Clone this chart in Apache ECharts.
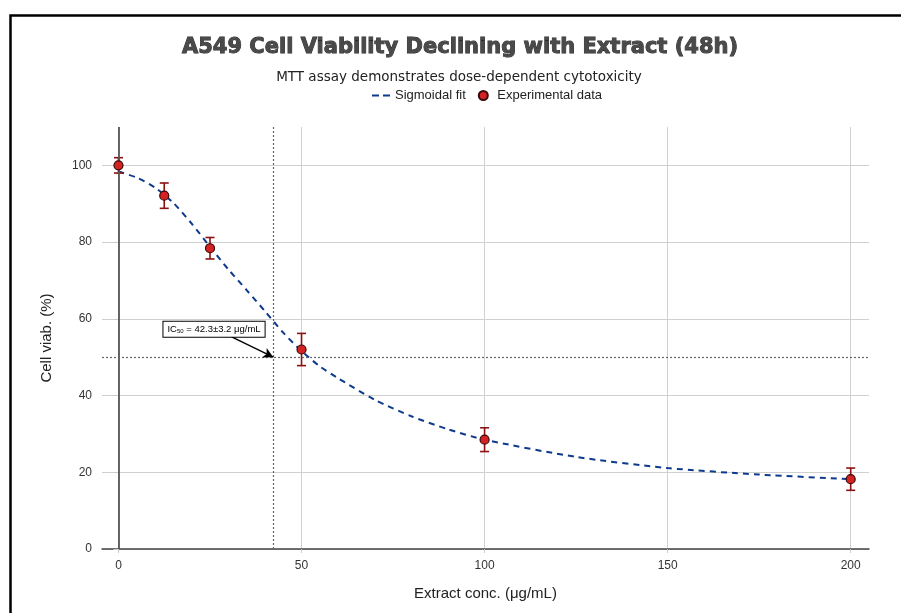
<!DOCTYPE html>
<html><head><meta charset="utf-8">
<script src="https://cdn.jsdelivr.net/npm/echarts@6/dist/echarts.min.js"></script>
<style>html,body{margin:0;padding:0;background:#fff}#c{width:901px;height:613px}</style>
</head><body><div id="c"></div>
<script>
// ---- data ----
const conc = [0, 12.5, 25, 50, 100, 200];
const viability = [100, 92.1, 78.4, 52.0, 28.5, 18.2];
const sdErr = [2.0, 3.3, 2.8, 4.2, 3.1, 2.9];
const fitX = [0, 5, 10, 15, 20, 25, 30, 35, 40, 45, 50, 55, 60, 70, 80, 90, 100, 125, 150, 175, 200];
const fitY = [98.4, 96.8, 94.2, 90.2, 84.8, 78.8, 72.9, 67.5, 62.0, 56.4, 51.6, 47.6, 44.5, 38.9, 34.6, 31.2, 28.5, 24.0, 21.1, 19.4, 18.2];
const xTicks = [0, 50, 100, 150, 200];
const yTicks = [0, 20, 40, 60, 80, 100];
const ic50 = 42.3;
const ic50Err = 3.2;
const halfLevel = 50;
const annotLabelAt = [26.1, 57.3];
const annotArrowFrom = [30.9, 55.3];

// ---- build ----
const fitData = fitX.map((x, i) => [x, fitY[i]]);
const ptsData = conc.map((x, i) => [x, viability[i]]);
const errData = conc.map((x, i) => [x, viability[i] - sdErr[i], viability[i] + sdErr[i]]);

const chart = echarts.init(document.getElementById('c'), null, {renderer: 'canvas'});
const FONT = '"Liberation Sans", Arial, sans-serif';

const option = {
  animation: false,
  backgroundColor: '#fff',
  grid: {left: 102, right: 32, top: 127, bottom: 64, containLabel: false},
  legend: {
    top: 84, left: 367,
    orient: 'horizontal',
    itemGap: 12,
    itemWidth: 18, itemHeight: 9,
    textStyle: {fontFamily: FONT, fontSize: 13, color: '#222'},
    data: [
      {name: 'Sigmoidal fit', icon: 'path://M0,0 L7,0 L7,2 L0,2 Z M11,0 L18,0 L18,2 L11,2 Z', itemStyle: {color: '#0d3a8c'}},
      {name: 'Experimental data', icon: 'circle'}
    ]
  },
  xAxis: {
    type: 'value', min: -4.5, max: 205,
    name: 'Extract conc. (μg/mL)', nameLocation: 'middle', nameGap: 37,
    nameTextStyle: {fontFamily: FONT, fontSize: 15, color: '#222'},
    axisLine: {show: true, onZero: false, lineStyle: {color: '#444', width: 1.5}},
    axisTick: {show: true, length: 4, lineStyle: {color: '#ccc'}, customValues: xTicks},
    axisLabel: {fontFamily: FONT, fontSize: 12, color: '#333', margin: 11, customValues: xTicks},
    splitLine: {show: true, lineStyle: {color: '#d0d0d0', width: 1}}
  },
  yAxis: {
    type: 'value', min: 0, max: 110,
    name: 'Cell viab. (%)', nameLocation: 'middle', nameGap: 48,
    nameTextStyle: {fontFamily: FONT, fontSize: 15, color: '#222'},
    axisLine: {show: false},
    axisTick: {show: true, length: 5, lineStyle: {color: '#ccc'}, customValues: yTicks},
    axisLabel: {fontFamily: FONT, fontSize: 12, color: '#333', margin: 10, customValues: yTicks},
    splitLine: {show: true, lineStyle: {color: '#d0d0d0', width: 1}}
  },
  series: [
    {
      name: 'refLines', type: 'line', data: [], silent: true, z: 1,
      markLine: {
        silent: true, symbol: ['none', 'none'], label: {show: false}, animation: false,
        data: [
          {xAxis: 0, lineStyle: {color: '#555', width: 1.8, type: 'solid'}},
          {xAxis: ic50, lineStyle: {color: '#666', width: 1.2, type: [2, 2]}},
          {yAxis: halfLevel, lineStyle: {color: '#666', width: 1.2, type: [2, 2]}}
        ]
      }
    },
    {
      name: 'Sigmoidal fit', type: 'line', data: fitData, smooth: 0.25, showSymbol: false, symbol: 'none',
      lineStyle: {color: '#0d3a8c', width: 2, type: [6, 5]}, itemStyle: {color: '#0d3a8c'}, z: 3
    },
    {
      name: 'errbars', type: 'custom', data: errData, z: 4,
      renderItem: function (params, api) {
        const x = api.value(0), lo = api.value(1), hi = api.value(2);
        const p1 = api.coord([x, hi]), p2 = api.coord([x, lo]);
        const w = 4.5;
        const st = {stroke: '#8b1010', lineWidth: 1.6};
        return {type: 'group', children: [
          {type: 'line', shape: {x1: p1[0], y1: p1[1], x2: p2[0], y2: p2[1]}, style: st},
          {type: 'line', shape: {x1: p1[0] - w, y1: p1[1], x2: p1[0] + w, y2: p1[1]}, style: st},
          {type: 'line', shape: {x1: p2[0] - w, y1: p2[1], x2: p2[0] + w, y2: p2[1]}, style: st}
        ]};
      }
    },
    {
      name: 'Experimental data', type: 'scatter', data: ptsData, symbol: 'circle', symbolSize: 9, z: 5,
      itemStyle: {color: '#d42222', borderColor: '#3a0808', borderWidth: 1.2, opacity: 1},
      markLine: {
        silent: true, symbol: ['none', 'arrow'], symbolSize: [8, 10], label: {show: false},
        lineStyle: {color: '#000', width: 1.5, type: 'solid'},
        data: [[{coord: annotArrowFrom}, {coord: [ic50, halfLevel]}]]
      },
      markPoint: {
        silent: true, symbol: 'rect', symbolSize: 0,
        data: [{coord: annotLabelAt}],
        label: {
          show: true, position: 'inside',
          backgroundColor: '#fff', borderColor: '#000', borderWidth: 1, padding: [3, 4, 2, 4],
          formatter: '{a|IC}{s|50}{a| = ' + ic50.toFixed(1) + '±' + ic50Err.toFixed(1) + ' μg/mL}',
          rich: {
            a: {fontFamily: FONT, fontSize: 9.5, color: '#000'},
            s: {fontFamily: FONT, fontSize: 6, color: '#000', verticalAlign: 'bottom', padding: [4, 0, 0, 0]}
          }
        }
      }
    }
  ],
  graphic: [
    {type: 'rect', left: 8, top: 13, silent: true, z: 100,
     shape: {x: 0, y: 0, width: 1000, height: 700}, style: {fill: 'none', stroke: '#000', lineWidth: 2.5}},
    {type: 'text', x: 460, y: 48, silent: true,
     style: {text: 'A549 Cell Viability Declining with Extract (48h)', textAlign: 'center', textVerticalAlign: 'middle',
             font: 'bold 21px "DejaVu Sans", sans-serif', fill: '#4a4a4a', stroke: '#2a2a2a', lineWidth: 0.9}},
    {type: 'text', x: 459, y: 77, silent: true,
     style: {text: 'MTT assay demonstrates dose-dependent cytotoxicity', textAlign: 'center', textVerticalAlign: 'middle',
             font: '13.5px "DejaVu Sans", sans-serif', fill: '#222'}}
  ]
};
chart.setOption(option);
</script>
</body></html>
